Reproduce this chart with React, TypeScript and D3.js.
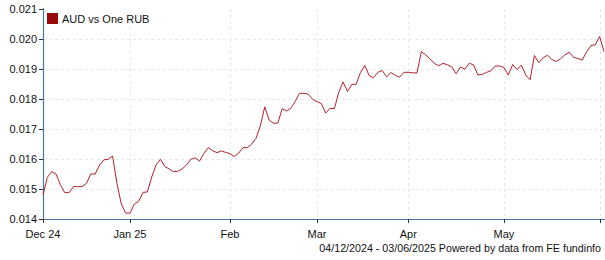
import React from "react";
import * as d3 from "d3";

const seriesName = "AUD vs One RUB";
const startDate = "2024-12-04";
const endDate = "2025-06-03";
// one value per weekday, Dec 4 2024 .. Jun 3 2025
const values: number[] = [
  0.0148, 0.01539, 0.01558, 0.0155, 0.01514, 0.01488, 0.01488, 0.01508, 0.01508, 0.01508,
  0.01519, 0.0155, 0.0155, 0.0158, 0.01597, 0.01599, 0.0161, 0.01519, 0.0145, 0.0142,
  0.01419, 0.0145, 0.01459, 0.01489, 0.0149, 0.0154, 0.0158, 0.01599, 0.01575, 0.01567,
  0.01558, 0.01559, 0.01567, 0.0158, 0.01599, 0.01604, 0.01593, 0.01619, 0.01638, 0.01628,
  0.01621, 0.01627, 0.01622, 0.01618, 0.01608, 0.0162, 0.01638, 0.01638, 0.0165, 0.01669,
  0.01712, 0.01774, 0.0173, 0.01719, 0.0172, 0.01768, 0.0176, 0.01769, 0.01792, 0.01819,
  0.01819, 0.01816, 0.01799, 0.01791, 0.01785, 0.01753, 0.01769, 0.01768, 0.01822, 0.01857,
  0.01825, 0.01849, 0.01849, 0.01888, 0.01912, 0.01878, 0.01871, 0.01889, 0.01895, 0.01874,
  0.01888, 0.01879, 0.01873, 0.01889, 0.01889, 0.01887, 0.01887, 0.01958, 0.01947, 0.01934,
  0.01919, 0.01911, 0.01919, 0.01914, 0.01907, 0.01884, 0.01907, 0.01899, 0.01919, 0.01914,
  0.0188, 0.01882, 0.01889, 0.01894, 0.0191, 0.0191, 0.01905, 0.0188, 0.01915, 0.01898,
  0.01913, 0.0188, 0.01864, 0.01945, 0.01921, 0.01937, 0.01946, 0.01932, 0.01925, 0.01934,
  0.01947, 0.01956, 0.01939, 0.01935, 0.0193, 0.01957, 0.01978, 0.01981, 0.02008, 0.01958,
];
const yTicks = [0.014, 0.015, 0.016, 0.017, 0.018, 0.019, 0.02, 0.021];
const monthLabels = ["Dec 24", "Jan 25", "Feb", "Mar", "Apr", "May"];
const footer = "04/12/2024 - 03/06/2025 Powered by data from FE fundinfo";

const W = 605, H = 260;
const M = { left: 43, right: 604, top: 9, bottom: 219 };
const FONT = "'Liberation Sans', Arial, sans-serif";
const AXIS = "#4a78aa";
const LINE = "#b3222a";

export default function App() {
  const parse = d3.timeParse("%Y-%m-%d");
  const days = d3.timeDay
    .range(parse(startDate)!, d3.timeDay.offset(parse(endDate)!, 1))
    .filter((d) => d.getDay() !== 0 && d.getDay() !== 6);
  const data = days.slice(0, values.length).map((d, i) => ({ d, v: values[i], i }));

  const x = d3.scaleLinear().domain([0, data.length - 1]).range([M.left, M.right]);
  const y = d3.scaleLinear().domain([0.014, 0.021]).range([M.bottom, M.top]);

  // first weekday of each month
  const monthTicks: number[] = [];
  data.forEach((p, i) => {
    if (i === 0 || p.d.getMonth() !== data[i - 1].d.getMonth()) monthTicks.push(i);
  });

  const line = d3
    .line<{ i: number; v: number }>()
    .x((p) => x(p.i))
    .y((p) => y(p.v));

  return (
    <svg
      width={W}
      height={H}
      style={{ position: "absolute", left: 0, top: 0, background: "#fff" }}
      fontFamily={FONT}
    >
      {/* grid */}
      {yTicks.slice(1, -1).map((t) => (
        <line key={"gy" + t} x1={M.left} x2={M.right} y1={Math.round(y(t)) + 0.5} y2={Math.round(y(t)) + 0.5}
          stroke="#e8e8e8" strokeDasharray="3,3" />
      ))}
      {monthTicks.slice(1).map((i) => (
        <line key={"gx" + i} x1={Math.round(x(i)) + 0.5} x2={Math.round(x(i)) + 0.5} y1={M.top} y2={M.bottom}
          stroke="#e8e8e8" strokeDasharray="3,3" />
      ))}
      {/* axes */}
      <line x1={M.left + 0.5} x2={M.left + 0.5} y1={M.top - 1} y2={M.bottom} stroke={AXIS} strokeWidth={1.2} />
      <line x1={M.left} x2={M.right + 1} y1={M.bottom + 0.5} y2={M.bottom + 0.5} stroke={AXIS} strokeWidth={1.2} />
      {yTicks.map((t) => (
        <g key={"yt" + t}>
          <line x1={M.left - 4} x2={M.left} y1={Math.round(y(t)) + 0.5} y2={Math.round(y(t)) + 0.5} stroke="#333" />
          <text x={M.left - 6} y={y(t) + 4} textAnchor="end" fontSize={11} fill="#111">
            {d3.format(".3f")(t)}
          </text>
        </g>
      ))}
      {monthTicks.map((i, k) => (
        <g key={"xt" + i}>
          <line x1={Math.round(x(i)) + 0.5} x2={Math.round(x(i)) + 0.5} y1={M.bottom} y2={M.bottom + 4} stroke="#333" />
          <text x={x(i)} y={238} textAnchor="middle" fontSize={11} fill="#111">
            {monthLabels[k]}
          </text>
        </g>
      ))}
      {/* series */}
      <path d={line(data) || ""} fill="none" stroke={LINE} strokeWidth={1} strokeLinejoin="round" />
      {/* legend */}
      <rect x={47} y={13} width={11} height={11} fill="#9b0a0a" />
      <text x={62} y={23} fontSize={11} fill="#111">{seriesName}</text>
      {/* footer */}
      <text x={601} y={252} textAnchor="end" fontSize={10.7} fill="#111">{footer}</text>
    </svg>
  );
}
